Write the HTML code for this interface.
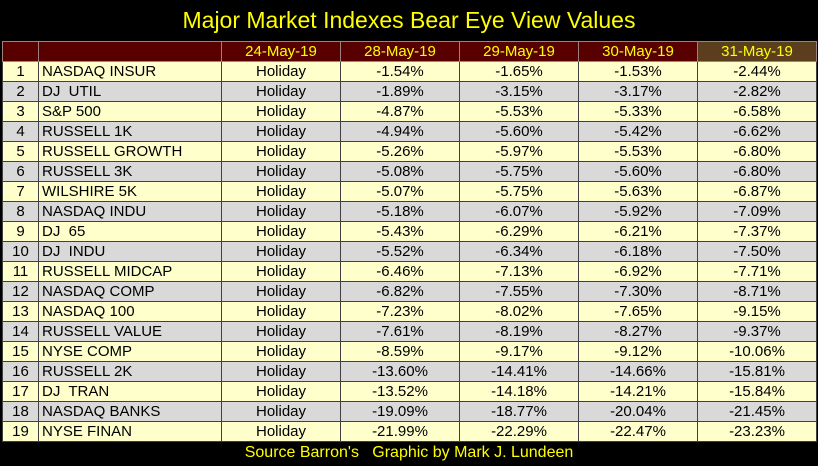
<!DOCTYPE html>
<html><head><meta charset="utf-8"><style>
body{margin:0;background:#000;width:818px;height:466px;overflow:hidden;font-family:"Liberation Sans",Arial,sans-serif;position:relative}
#title{position:absolute;left:0;width:818px;top:6px;text-align:center;color:#ffff00;font-size:23px;line-height:28px}
#foot{position:absolute;left:0;width:818px;top:442px;text-align:center;color:#ffff00;font-size:16px;line-height:22px;white-space:pre}
table{position:absolute;left:2px;top:41px;border-collapse:collapse;table-layout:fixed}
td{height:19px;padding:0;font-size:15px;line-height:19px;border:1px solid #404040;color:#000;white-space:pre;overflow:hidden}
th{height:19px;padding:0;font-size:15px;font-weight:normal;color:#ffff00;background:#580000;border:1px solid #a08080;text-align:center}
th.last{background:#5a3e1e}
tr.odd td{background:#ffffcc}
tr.even td{background:#d9d9d9}
td.n{text-align:center}
td.nm{padding-left:3px}
td.c{text-align:center}
</style></head><body>
<div id="title">Major Market Indexes Bear Eye View Values</div>
<table id="tbl">
<colgroup><col style="width:36px"><col style="width:183px"><col style="width:119px"><col style="width:119px"><col style="width:119px"><col style="width:119px"><col style="width:119px"></colgroup>
<thead><tr><th></th><th></th><th>24-May-19</th><th>28-May-19</th><th>29-May-19</th><th>30-May-19</th><th class="last">31-May-19</th></tr></thead>
<tbody id="body"></tbody>
</table>
<div id="foot">Source Barron's   Graphic by Mark J. Lundeen</div>
<script>
const names=["NASDAQ INSUR","DJ  UTIL","S&P 500","RUSSELL 1K","RUSSELL GROWTH","RUSSELL 3K","WILSHIRE 5K","NASDAQ INDU","DJ  65","DJ  INDU","RUSSELL MIDCAP","NASDAQ COMP","NASDAQ 100","RUSSELL VALUE","NYSE COMP","RUSSELL 2K","DJ  TRAN","NASDAQ BANKS","NYSE FINAN"];
const may28=[-1.54,-1.89,-4.87,-4.94,-5.26,-5.08,-5.07,-5.18,-5.43,-5.52,-6.46,-6.82,-7.23,-7.61,-8.59,-13.60,-13.52,-19.09,-21.99];
const may29=[-1.65,-3.15,-5.53,-5.60,-5.97,-5.75,-5.75,-6.07,-6.29,-6.34,-7.13,-7.55,-8.02,-8.19,-9.17,-14.41,-14.18,-18.77,-22.29];
const may30=[-1.53,-3.17,-5.33,-5.42,-5.53,-5.60,-5.63,-5.92,-6.21,-6.18,-6.92,-7.30,-7.65,-8.27,-9.12,-14.66,-14.21,-20.04,-22.47];
const may31=[-2.44,-2.82,-6.58,-6.62,-6.80,-6.80,-6.87,-7.09,-7.37,-7.50,-7.71,-8.71,-9.15,-9.37,-10.06,-15.81,-15.84,-21.45,-23.23];
const body=document.getElementById('body');
names.forEach((nm,i)=>{
  const tr=document.createElement('tr');
  tr.className=i%2===0?'odd':'even';
  
  
  const cells=[[String(i+1),'n'],[nm,'nm'],['Holiday','c'],[may28[i].toFixed(2)+'%','c'],[may29[i].toFixed(2)+'%','c'],[may30[i].toFixed(2)+'%','c'],[may31[i].toFixed(2)+'%','c']];
  cells.forEach(([t,c])=>{
    const td=document.createElement('td');
    td.className=c;
    td.textContent=t;
    
    
    tr.appendChild(td);
  });
  body.appendChild(tr);
});
</script>
</body></html>
